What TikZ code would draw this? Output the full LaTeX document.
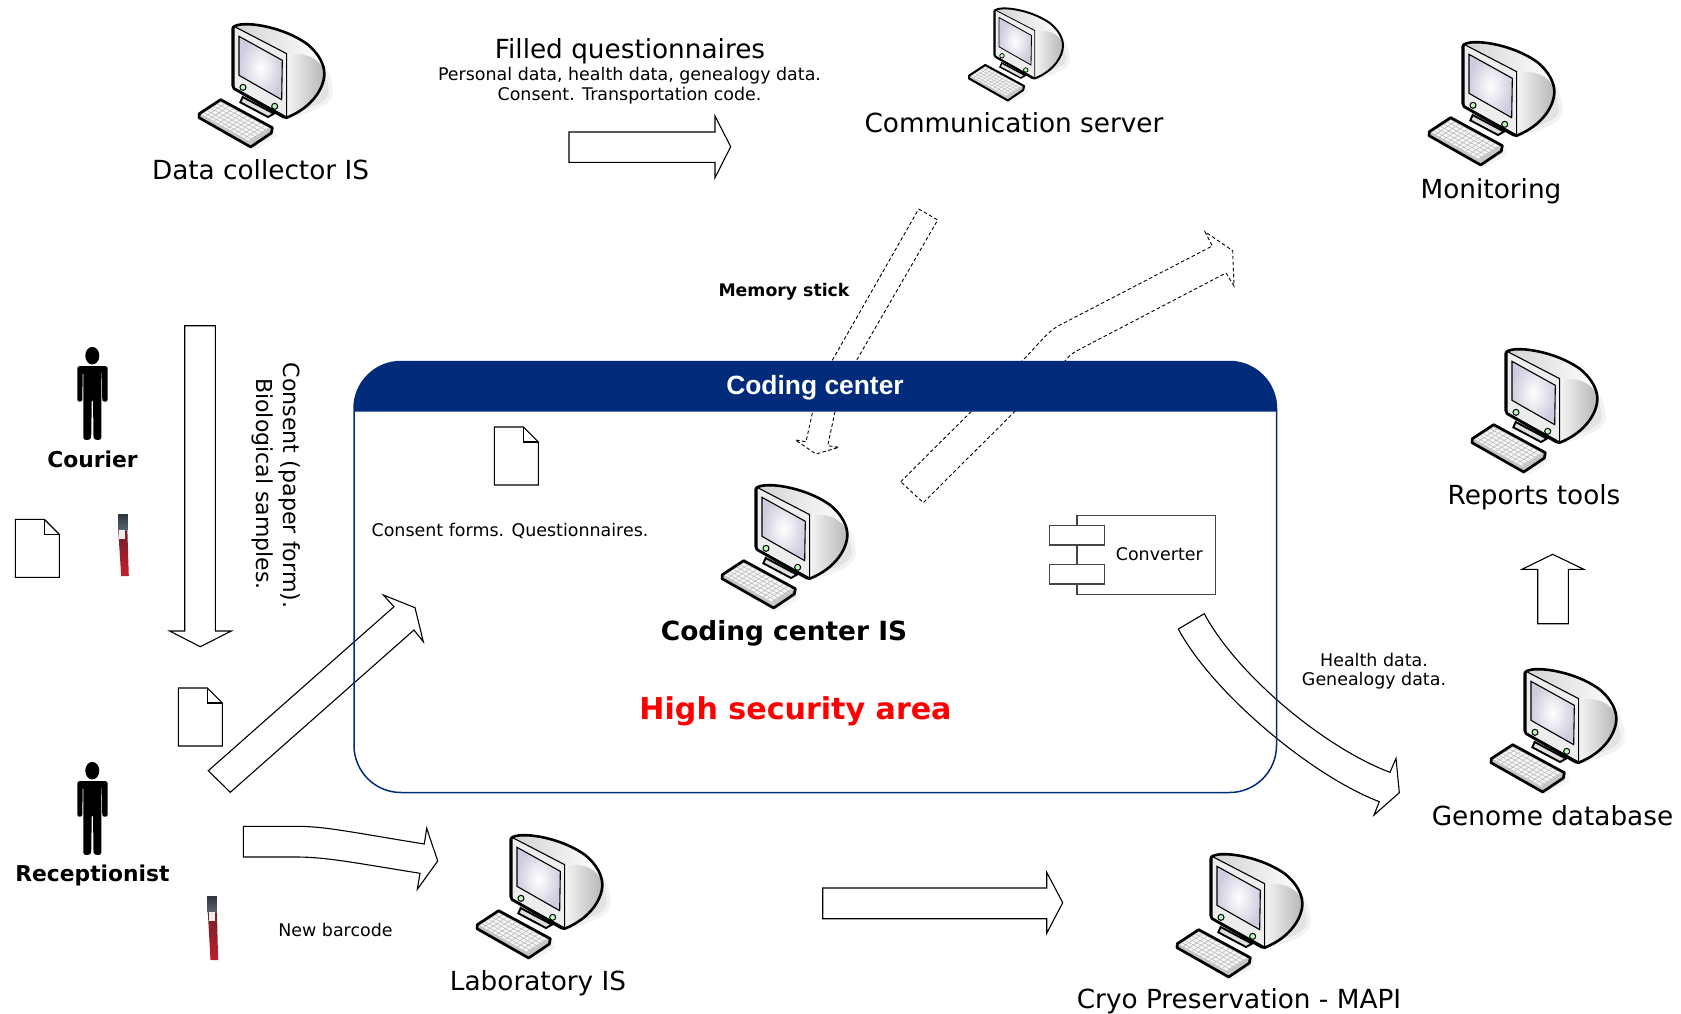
\documentclass[tikz,border=0pt]{standalone}
\usepackage{fontspec}
\setmainfont{DejaVu Sans}
\newfontfamily\arialfont{Liberation Sans}
\usetikzlibrary{calc}
\definecolor{navybox}{HTML}{002A7A}
\definecolor{portline}{HTML}{444444}
\definecolor{tubecap}{HTML}{2F3840}
\definecolor{tubeneck}{HTML}{5A6470}
\definecolor{tubedark}{HTML}{6E2028}
\definecolor{tubelow}{HTML}{C01F2C}
\newcommand{\px}[1]{\fontsize{#1}{#1}\selectfont}
\tikzset{
  blockarrow/.style={draw=black,line width=1.1pt,line join=miter},
  dashedarrow/.style={draw=black,line width=0.9pt,dash pattern=on 3.5pt off 2.5pt},
  label/.style={inner sep=0pt,align=center,text=black},
  biglabel/.style={label,font=\px{26.3}},
  smalllabel/.style={label,font=\px{17.45}},
  boldlabel/.style={label,font=\px{21.8}\bfseries},
  docicon/.style={draw=black,line width=1.1pt,fill=white},
}
\newcommand{\computer}[3]{%
\begin{scope}[shift={(#1+1,#2)},scale=#3/3,shift={(-55,-38)}]
  % shadows
  \fill[gray!22,draw=gray!10,line width=4pt] (375,125) .. controls (420,140) and (452,200) .. (450,250) .. controls (445,285) and (380,300) .. (320,322) -- (300,200) -- cycle;
  \fill[gray!18,draw=gray!8,line width=3pt] (278,360) -- (285,378) -- (225,412) -- (205,412) -- cycle;
  % stand
  \filldraw[fill=gray!25,draw=black,line width={1.9pt*#3}] (186,260) -- (179,276) -- (262,320) -- (280,310) -- cycle;
  % body
  \shade[left color=gray!8,right color=gray!58,draw=none] (318,130) .. controls (370,125) and (415,140) .. (430,180) .. controls (433,230) and (400,290) .. (318,322) -- cycle;
  \shade[left color=gray!35,right color=white] (158,48) .. controls (180,30) and (300,45) .. (380,100) .. controls (405,118) and (422,145) .. (430,180) .. controls (415,140) and (370,125) .. (318,130) -- cycle;
  % bezel
  \filldraw[fill=gray!14,draw=black,line width={1.1pt*#3}] (160,48) -- (318,130) -- (318,320) -- (160,232) -- cycle;
  % screen
  \shade[inner color=white,outer color=blue!22!gray!32,draw=black,line width={1.1pt*#3}] (175,78) -- (305,150) -- (303,268) -- (175,195) -- cycle;
  % outline
  \draw[black,line width={2.6pt*#3},line join=round] (158,50) .. controls (180,30) and (300,45) .. (378,100) .. controls (416,130) and (431,165) .. (431,190) .. controls (431,230) and (398,290) .. (318,322) -- (308,320) -- (160,235) -- (156,225) -- (156,55) -- cycle;
  % buttons
  \filldraw[fill=green!28!white,draw=black,line width={1pt*#3}] (187,231) circle (9);
  \filldraw[fill=green!28!white,draw=black,line width={1pt*#3}] (282,288) circle (9);
  % keyboard
  \filldraw[fill=gray!45,draw=black,line width={2.7pt*#3},line join=round] (120,268) -- (275,352) -- (272,368) -- (210,410) -- (55,322) -- (56,310) -- cycle;
  \fill[gray!6] (120,276) -- (266,354) -- (206,392) -- (64,312) -- cycle;
  \foreach \t in {0.08,0.17,...,1.0}{
    \draw[gray!55,line width={0.6pt*#3}] ({120+148*\t},{274+80*\t}) -- ({62+146*\t},{312+80*\t});
  }
  \foreach \u in {0.17,0.34,...,0.9}{
    \draw[gray!55,line width={0.6pt*#3}] ({120-58*\u},{274+40*\u}) -- ({268-60*\u},{354+40*\u});
  }
\end{scope}}
\newcommand{\person}[2]{%
\begin{scope}[shift={(#1,#2)}]
  \fill[black] (0,0) ellipse (7pt and 8.8pt);
  \fill[black,rounded corners=2.2pt] (-15,10.5) -- (15.4,10.5) -- (15.4,46) -- (10,46) -- (9.6,16) -- (9,16) -- (9,80) .. controls (9,85) and (2,85) .. (1,80) -- (0.9,44) -- (-0.6,44) -- (-1,80) .. controls (-2,85) and (-9,85) .. (-9,80) -- (-9,16) -- (-9.6,16) -- (-10,46) -- (-15,46) -- cycle;
\end{scope}}
\newcommand{\docicon}[2]{%
\begin{scope}[shift={(#1,#2)}]
  \draw[docicon] (0,0) -- (29,0) -- (44,15) -- (44,58) -- (0,58) -- cycle;
  \draw[black,line width=1.1pt] (29,0) -- (29,15) -- (44,15);
\end{scope}}
\newcommand{\tube}[4]{%
\begin{scope}
  \shade[top color=tubedark,bottom color=tubelow,draw=none] ($(#1,#2)+(-4.6,14)$) -- ($(#1,#2)+(4.6,14)$) -- ($(#3,#4)+(3.8,-1)$) -- ($(#3,#4)+(-3.8,-1)$) -- cycle;
  \shade[top color=tubecap,bottom color=tubeneck,draw=none] ($(#1,#2)+(-4.6,1)$) rectangle ($(#1,#2)+(4.6,16)$);
  \fill[tubecap] ($(#1,#2)+(-5,0)$) rectangle ($(#1,#2)+(5,2.5)$);
  \fill[gray!15] ($(#1,#2)+(-3.8,16)$) rectangle ($(#1,#2)+(2.4,24.5)$);
\end{scope}}
\begin{document}
\begin{tikzpicture}[x=1pt,y=-1pt]
\useasboundingbox (0,0) rectangle (1681,1014);
\fill[white] (0,0) rectangle (1681,1014);

% computers
\computer{198}{23}{1}
\computer{968}{7.5}{0.75}
\computer{1428}{41}{1}
\computer{1471}{348}{1}
\computer{1490}{668}{1}
\computer{721}{484}{1}
\computer{476}{834}{1}
\computer{1176}{853}{1}

% people, documents, tubes
\person{92.3}{355.7}
\person{92.3}{770.7}
\docicon{15.3}{519.3}
\docicon{178.3}{688}
\docicon{494.3}{427}
\tube{122.7}{514}{125}{577}
\tube{212.3}{896}{214.3}{961}

% block arrows
\draw[blockarrow] (569,132) -- (715,132) -- (715,116) -- (730.7,146.7) -- (715,177.7) -- (715,162.3) -- (569,162.3) -- cycle;
\draw[blockarrow] (184.7,325.7) -- (215.3,325.7) -- (215.3,631) -- (231.3,631) -- (200.3,646.7) -- (169.6,631) -- (184.7,631) -- cycle;
\draw[blockarrow] (208.3,770.7) -- (394,606.7) -- (383.3,595) -- (415,607.7) -- (423.3,641.7) -- (414,630) -- (230.3,792.3) -- cycle;
\draw[blockarrow] (243.3,826.3) -- (296,826.3) .. controls (325,826.3) and (350,832) .. (424.3,844) -- (426.7,828.3) -- (437.7,861) -- (417.3,889.3) -- (420,873.3) .. controls (350,862) and (325,857) .. (296,857) -- (243.3,857) -- cycle;
\draw[blockarrow] (822.7,888) -- (1046.7,888) -- (1046.7,872.3) -- (1062.7,902.7) -- (1046.7,933.3) -- (1046.7,918.7) -- (822.7,918.7) -- cycle;
\draw[blockarrow] (1537.7,623.7) -- (1537.7,569.3) -- (1522,569.3) -- (1552.7,554.3) -- (1583.7,569.3) -- (1568.3,569.3) -- (1568.3,623.7) -- cycle;
\draw[blockarrow] (1204.3,613.7) .. controls (1237,675) and (1325,748) .. (1390,772.3) -- (1396,758.3) -- (1399.3,792.7) -- (1374,815) -- (1379.3,801.7) .. controls (1310,775) and (1212,692) .. (1178.3,629) -- cycle;

% dashed arrows
\draw[dashedarrow] (918.7,209) -- (937.7,220) -- (856,361.3) .. controls (845,380) and (838,395) .. (835,411.7) -- (827.7,445.7) -- (839,447.3) -- (816,454) -- (795.3,440) -- (806,441.7) -- (812.3,413.3) .. controls (816,395) and (822,378) .. (831.7,361.3) -- cycle;
\draw[dashedarrow] (900.7,481.7) -- (1021.7,361.3) .. controls (1040,343) and (1048,330) .. (1063.3,323.3) -- (1212.3,246) -- (1205,231.7) -- (1232.7,250.7) -- (1234,286) -- (1226,273) -- (1078.3,350) .. controls (1072,353) and (1068,357) .. (1064,362.3) -- (923.3,502.7) -- cycle;

% coding center box
\draw[navybox,line width=1.5pt,rounded corners=47pt] (354,361.5) rectangle (1276.5,792.5);
\fill[navybox] (354,411.5) -- (354,408.5) arc[start angle=180,end angle=90,radius=47pt] -- (1229.5,361.5) arc[start angle=90,end angle=0,radius=47pt] -- (1276.5,411.5) -- cycle;

% converter component
\draw[portline,line width=1.1pt,fill=white] (1077,515.7) rectangle (1215.7,594.3);
\draw[portline,line width=1.1pt,fill=white] (1049.3,525.3) rectangle (1104.7,545);
\draw[portline,line width=1.1pt,fill=white] (1049.3,564.3) rectangle (1104.7,584);
\node[smalllabel] (converter) at (1159.3,554.5) {Converter};

% texts
\node[biglabel] (datacollector) at (260.5,170) {Data collector IS};
\node[biglabel] (filled) at (630,51.2) {Filled questionnaires};
\node[smalllabel] (personal) at (629.5,76) {Personal data, health data, genealogy data.};
\node[smalllabel] (consenttop) at (629.5,96) {Consent. Transportation code.};
\node[biglabel] (commserver) at (1014,123) {Communication server};
\node[biglabel] (monitoring) at (1491,191) {Monitoring};
\node[label,font=\px{17.3}\bfseries] (memory) at (784,292) {Memory stick};
\node[boldlabel] (courier) at (92.5,459.5) {Courier};
\node[boldlabel] (receptionist) at (92.5,875.5) {Receptionist};
\node[label,font=\px{22.2},rotate=-90] (consentpaper) at (290,485.5) {Consent (paper form).};
\node[label,font=\px{22},rotate=-90] (biosamples) at (263,484) {Biological samples.};
\node[label,text=white,font=\arialfont\px{26.4}\bfseries] (codingtitle) at (815,388) {Coding center};
\node[smalllabel] (consentforms) at (510,531) {Consent forms. Questionnaires.};
\node[label,font=\px{26.4}\bfseries] (codingis) at (784,633) {Coding center IS};
\node[label,text=red,font=\px{30.1}\bfseries] (highsec) at (795.5,711) {High security area};
\node[smalllabel] (health) at (1374,659.5) {Health data.};
\node[smalllabel] (genealogy) at (1374,680.5) {Genealogy data.};
\node[smalllabel] (barcode) at (335.5,929.5) {New barcode};
\node[biglabel] (labis) at (538,983.5) {Laboratory IS};
\node[biglabel] (cryo) at (1239,1001.5) {Cryo Preservation - MAPI};
\node[biglabel] (genome) at (1552.5,815.5) {Genome database};
\node[biglabel] (reports) at (1534,497.5) {Reports tools};
\end{tikzpicture}
\end{document}
